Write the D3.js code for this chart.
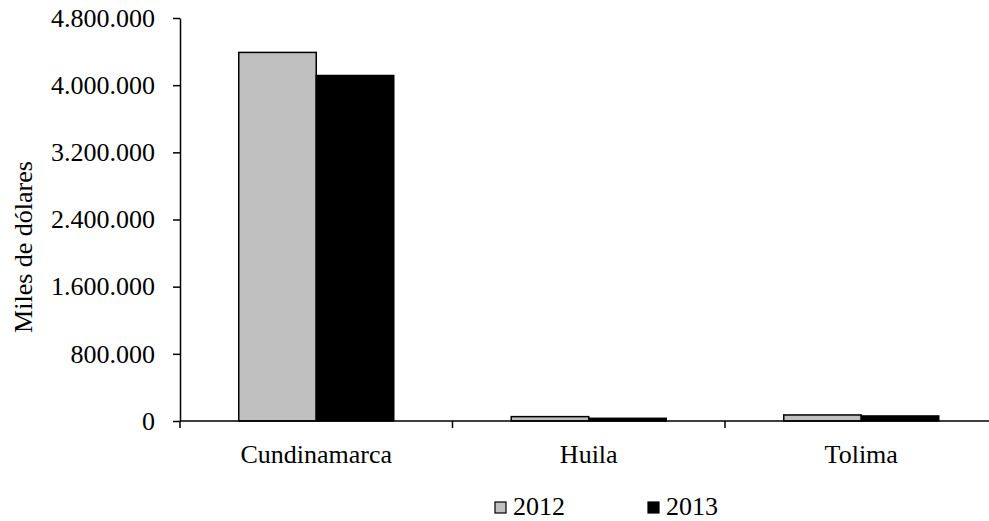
<!DOCTYPE html>
<html>
<head>
<meta charset="utf-8">
<script src="https://cdn.jsdelivr.net/npm/d3@7"></script>
<style>
body{margin:0;background:#fff;}
svg{display:block;}
svg text{font-family:"Liberation Serif","Times New Roman",serif;font-size:26px;fill:#000;}
</style>
</head>
<body>
<div id="chart"></div>
<script>
const categories=["Cundinamarca","Huila","Tolima"];
const years=["2012","2013"];
const values2012=[4390000,52000,72000];
const values2013=[4115000,32000,60000];
const yTicks=[0,800000,1600000,2400000,3200000,4000000,4800000];
const yearColors=["#c0c0c0","#000000"];

const width=989;
const height=521;

const svg=d3.select("#chart").append("svg")
    .attr("width",width)
    .attr("height",height);

const locale=d3.formatLocale({decimal:",",thousands:".",grouping:[3],currency:["$",""]});
const fmt=locale.format(",d");

const x0=180, y0=421;
const x=d3.scaleBand().domain(categories).range([x0,x0+3*272.5]).padding(0);
const xs=d3.scaleBand().domain(years).range([58.75,x.bandwidth()-58.75]).padding(0);
const y=d3.scaleLinear().domain([0,4800000]).range([y0,18]);

const rows=categories.map((c,i)=>({cat:c,vals:[values2012[i],values2013[i]]}));

// barras
const groups=svg.append("g").selectAll("g")
    .data(rows)
    .join("g")
    .attr("transform",d=>`translate(${x(d.cat)},0)`);

groups.selectAll("rect")
    .data(d=>d.vals.map((v,j)=>({year:years[j],v:v,j:j})))
    .join("rect")
    .attr("x",d=>xs(d.year))
    .attr("width",xs.bandwidth())
    .attr("y",d=>y(d.v))
    .attr("height",d=>y0-y(d.v))
    .attr("fill",d=>yearColors[d.j])
    .attr("stroke","#000")
    .attr("stroke-width",1.5);

// eje y
const yAxis=svg.append("g")
    .attr("transform",`translate(${x0},0)`)
    .call(d3.axisLeft(y).tickValues(yTicks).tickFormat(fmt).tickSize(7).tickSizeOuter(0).tickPadding(18));
yAxis.attr("font-family",null).attr("font-size",null);
yAxis.select(".domain").attr("stroke","#000").attr("stroke-width",1.5);
yAxis.selectAll(".tick line").attr("stroke","#000").attr("stroke-width",1.5);
yAxis.selectAll(".tick text").attr("fill","#000");

// eje x
svg.append("line")
    .attr("x1",x0).attr("x2",width)
    .attr("y1",y0).attr("y2",y0)
    .attr("stroke","#000").attr("stroke-width",1.5);

const bounds=categories.map(c=>x(c)).concat([x0+3*272.5]);
svg.append("g").selectAll("line")
    .data(bounds)
    .join("line")
    .attr("x1",d=>d).attr("x2",d=>d)
    .attr("y1",y0).attr("y2",y0+7)
    .attr("stroke","#000").attr("stroke-width",1.5);

svg.append("g").selectAll("text")
    .data(categories)
    .join("text")
    .attr("x",d=>x(d)+x.bandwidth()/2)
    .attr("y",463)
    .attr("text-anchor","middle")
    .text(d=>d);

// titulo eje y
svg.append("text")
    .attr("transform","translate(32,247) rotate(-90)")
    .attr("text-anchor","middle")
    .text("Miles de dólares");

// leyenda
const legendX=[495,648];
const legend=svg.append("g").selectAll("g")
    .data(years)
    .join("g")
    .attr("transform",(d,i)=>`translate(${legendX[i]},0)`);
legend.append("rect")
    .attr("x",0).attr("y",502)
    .attr("width",11).attr("height",11)
    .attr("fill",(d,i)=>yearColors[i])
    .attr("stroke","#000").attr("stroke-width",1.2);
legend.append("text")
    .attr("x",18).attr("y",515)
    .text(d=>d);
</script>
</body>
</html>
